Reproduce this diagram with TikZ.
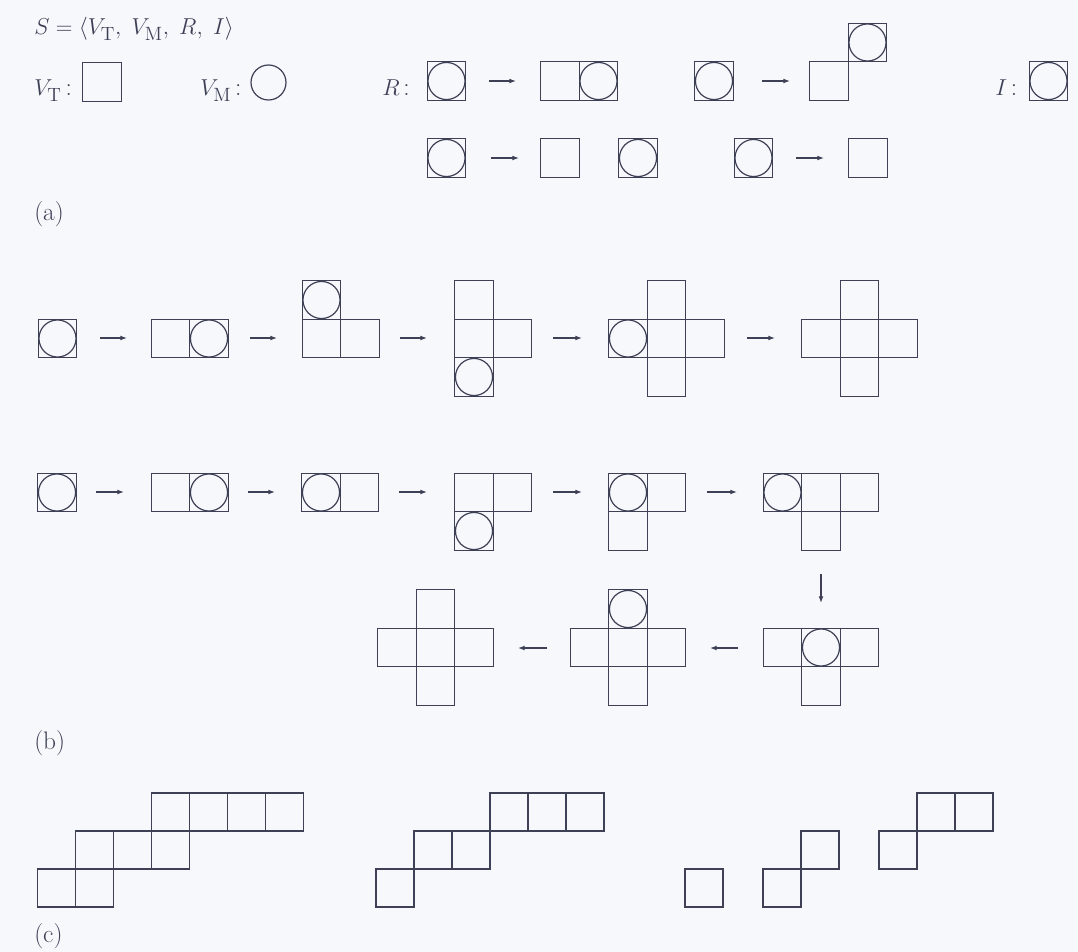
\documentclass[tikz,border=0pt]{standalone}
\usetikzlibrary{arrows.meta}
\definecolor{ink}{RGB}{62,64,86}
\definecolor{paper}{RGB}{246,248,252}
\begin{document}
\begin{tikzpicture}[x=0.75pt,y=-0.75pt,
  cellbox/.style={draw=ink, line width=0.9pt, minimum width=28.875pt, minimum height=28.875pt, inner sep=0pt, outer sep=0pt},
  ccell/.style={cellbox, minimum width=28.5pt, minimum height=28.5pt},
  mcell/.style={cellbox, path picture={\draw[ink, line width=0.9pt] (path picture bounding box.center) circle[radius=13.9pt];}},
  arr/.style={draw=ink, line width=0.8pt, -{Latex[length=5pt,width=3.6pt]}},
  lbl/.style={text=ink, inner sep=0pt, anchor=base west, font=\fontsize{19}{22}\selectfont}]
\path[use as bounding box, fill=paper] (0,0) rectangle (1078,952);

% ---------------- (a)
\node[lbl] (title) at (34,35) {$S = \langle V_{\mathrm{T}},\; V_{\mathrm{M}},\; R,\; I\rangle$};
\node[lbl] (vtl) at (34,96) {$V_{\mathrm{T}}\,$:};
\node[cellbox] (vt) at (102,82) {};
\node[lbl] (vml) at (200,96) {$V_{\mathrm{M}}\,$:};
\node[draw=ink, line width=0.9pt, circle, minimum size=26.25pt, inner sep=0pt] (vm) at (268.5,82.5) {};
\node[lbl] (rl) at (382,96) {$R\,$:};
\node[mcell] (r1a) at (446.5,81) {};
\coordinate (r1s) at (489,81); \coordinate (r1e) at (516,81);
\draw[arr] (r1s) -- (r1e);
\node[cellbox] (r1b) at (560,81) {};
\node[mcell] (r1c) at (598.5,81) {};
\node[mcell] (r2a) at (714,81) {};
\coordinate (r2s) at (762,81); \coordinate (r2e) at (790,81);
\draw[arr] (r2s) -- (r2e);
\node[cellbox] (r2b) at (829,81) {};
\node[mcell] (r2c) at (867.5,42.5) {};
\node[lbl] (il) at (995,96) {$I\,$:};
\node[mcell] (ibox) at (1048.5,81) {};
\node[mcell] (r3a) at (446.5,158) {};
\coordinate (r3s) at (491,158); \coordinate (r3e) at (519,158);
\draw[arr] (r3s) -- (r3e);
\node[cellbox] (r3b) at (560,158) {};
\node[mcell] (r3c) at (638,158) {};
\node[mcell] (r4a) at (753.5,158) {};
\coordinate (r4s) at (796,158); \coordinate (r4e) at (824,158);
\draw[arr] (r4s) -- (r4e);
\node[cellbox] (r4b) at (868,158) {};
\node[lbl] (la) at (34,221) {(a)};

% ---------------- (b) first row
\node[mcell] (p1) at (57.5,338.5) {};
\coordinate (pa1s) at (100,338); \coordinate (pa1e) at (127,338);
\draw[arr] (pa1s) -- (pa1e);
\node[cellbox] (p2a) at (170.5,338.5) {};
\node[mcell] (p2b) at (209,338.5) {};
\coordinate (pa2s) at (250,338); \coordinate (pa2e) at (277,338);
\draw[arr] (pa2s) -- (pa2e);
\node[mcell] (p3a) at (321.5,300) {};
\node[cellbox] (p3b) at (321.5,338.5) {};
\node[cellbox] (p3c) at (360,338.5) {};
\coordinate (pa3s) at (400,338); \coordinate (pa3e) at (427,338);
\draw[arr] (pa3s) -- (pa3e);
\node[cellbox] (p4a) at (474,300) {};
\node[cellbox] (p4b) at (474,338.5) {};
\node[mcell] (p4c) at (474,377) {};
\node[cellbox] (p4d) at (512.5,338.5) {};
\coordinate (pa4s) at (553,338); \coordinate (pa4e) at (582,338);
\draw[arr] (pa4s) -- (pa4e);
\node[mcell] (p5a) at (628,338.5) {};
\node[cellbox] (p5b) at (666.5,300) {};
\node[cellbox] (p5c) at (666.5,338.5) {};
\node[cellbox] (p5d) at (666.5,377) {};
\node[cellbox] (p5e) at (705,338.5) {};
\coordinate (pa5s) at (747,338); \coordinate (pa5e) at (775,338);
\draw[arr] (pa5s) -- (pa5e);
\node[cellbox] (p6a) at (821,338.5) {};
\node[cellbox] (p6b) at (859.5,300) {};
\node[cellbox] (p6c) at (859.5,338.5) {};
\node[cellbox] (p6d) at (859.5,377) {};
\node[cellbox] (p6e) at (898,338.5) {};

% ---------------- (b) second row
\node[mcell] (q1) at (57,492.5) {};
\coordinate (qa1s) at (96,492); \coordinate (qa1e) at (124,492);
\draw[arr] (qa1s) -- (qa1e);
\node[cellbox] (q2a) at (170.5,492.5) {};
\node[mcell] (q2b) at (209,492.5) {};
\coordinate (qa2s) at (248,492); \coordinate (qa2e) at (275,492);
\draw[arr] (qa2s) -- (qa2e);
\node[mcell] (q3a) at (321,492.5) {};
\node[cellbox] (q3b) at (359.5,492.5) {};
\coordinate (qa3s) at (399,492); \coordinate (qa3e) at (427,492);
\draw[arr] (qa3s) -- (qa3e);
\node[cellbox] (q4a) at (474,492.5) {};
\node[cellbox] (q4b) at (512.5,492.5) {};
\node[mcell] (q4c) at (474,531) {};
\coordinate (qa4s) at (553,492); \coordinate (qa4e) at (582,492);
\draw[arr] (qa4s) -- (qa4e);
\node[mcell] (q5a) at (628,492.5) {};
\node[cellbox] (q5b) at (666.5,492.5) {};
\node[cellbox] (q5c) at (628,531) {};
\coordinate (qa5s) at (707,492); \coordinate (qa5e) at (737,492);
\draw[arr] (qa5s) -- (qa5e);
\node[mcell] (q6a) at (782.5,492.5) {};
\node[cellbox] (q6b) at (821,492.5) {};
\node[cellbox] (q6c) at (859.5,492.5) {};
\node[cellbox] (q6d) at (821,531) {};
\coordinate (qa6s) at (821,574); \coordinate (qa6e) at (821,603);
\draw[arr] (qa6s) -- (qa6e);

% ---------------- (b) third row
\node[cellbox] (s1a) at (782.5,647.5) {};
\node[mcell] (s1b) at (821,647.5) {};
\node[cellbox] (s1c) at (859.5,647.5) {};
\node[cellbox] (s1d) at (821,686) {};
\coordinate (sa1s) at (738,648); \coordinate (sa1e) at (710,648);
\draw[arr] (sa1s) -- (sa1e);
\node[mcell] (s2a) at (628,609) {};
\node[cellbox] (s2b) at (589.5,647.5) {};
\node[cellbox] (s2c) at (628,647.5) {};
\node[cellbox] (s2d) at (666.5,647.5) {};
\node[cellbox] (s2e) at (628,686) {};
\coordinate (sa2s) at (547,648); \coordinate (sa2e) at (518,648);
\draw[arr] (sa2s) -- (sa2e);
\node[cellbox] (s3a) at (435.5,609) {};
\node[cellbox] (s3b) at (397,647.5) {};
\node[cellbox] (s3c) at (435.5,647.5) {};
\node[cellbox] (s3d) at (474,647.5) {};
\node[cellbox] (s3e) at (435.5,686) {};
\node[lbl] (lb) at (34,749) {(b)};

% ---------------- (c)
\foreach \n/\x/\y in {a/56.5/888, b/94.5/888, c/94.5/850, d/132.5/850, e/170.5/850,
  f/170.5/812, g/208.5/812, h/246.5/812, i/284.5/812}
  \node[ccell] (c1\n) at (\x,\y) {};
\foreach \n/\x/\y in {a/395/888, b/433/850, c/471/850, d/509/812, e/547/812, f/585/812}
  \node[ccell] (c2\n) at (\x,\y) {};
\node[ccell] (c3a) at (704,888) {};
\node[ccell] (c4a) at (782,888) {};
\node[ccell] (c4b) at (820,850) {};
\node[ccell] (c5a) at (898,850) {};
\node[ccell] (c5b) at (936,812) {};
\node[ccell] (c5c) at (974,812) {};
\node[lbl] (lc) at (34,942) {(c)};
\end{tikzpicture}
\end{document}
